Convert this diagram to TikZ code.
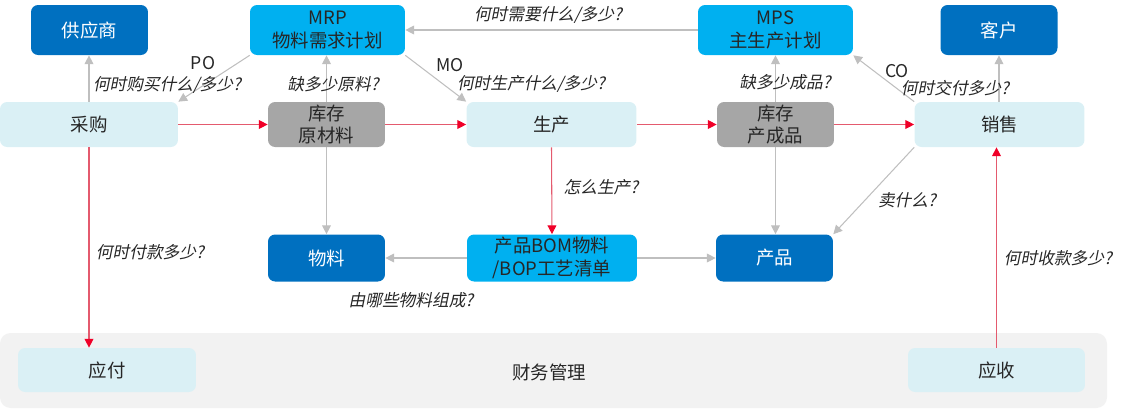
\documentclass[tikz,border=0pt]{standalone}
\usepackage{fontspec}
\usepackage{tikz}
\usetikzlibrary{arrows.meta, positioning}
\newfontfamily\cjk{Noto Sans CJK SC}
\newfontfamily\cjkit[FakeSlant=0.2]{Noto Sans CJK SC}
\definecolor{mydeep}{RGB}{0,112,192}
\definecolor{mysky}{RGB}{0,176,240}
\definecolor{mypale}{RGB}{218,240,245}
\definecolor{mystock}{RGB}{166,166,166}
\definecolor{myband}{RGB}{242,242,242}
\definecolor{mygrey}{RGB}{191,191,191}
\definecolor{myred}{RGB}{228,90,110}
\definecolor{mytip}{RGB}{240,0,40}
\definecolor{mytext}{RGB}{38,38,38}
\tikzset{
  box/.style={rectangle, rounded corners=4pt, inner sep=0pt, align=center,
    font=\cjk\fontsize{10.5}{13}\selectfont, text=mytext},
  deepbox/.style={box, fill=mydeep, text=white, minimum width=2.34cm, minimum height=1cm},
  skybox/.style={box, fill=mysky, minimum width=3.1cm, minimum height=1cm},
  palebox/.style={box, fill=mypale, minimum width=3.4cm, minimum height=0.9cm},
  stockbox/.style={box, fill=mystock, minimum width=2.34cm, minimum height=0.9cm},
  ask/.style={font=\cjkit\fontsize{9.5}{11}\selectfont, text=mytext, inner sep=1pt},
  tag/.style={font=\cjk\fontsize{10}{12}\selectfont, text=mytext, inner sep=1pt},
  greyarrow/.style={-{Triangle[length=5pt,width=5pt]}, color=mygrey, line width=0.6pt},
  redarrow/.style={-{Triangle[length=5pt,width=5pt,color=mytip]}, color=myred, line width=0.6pt}
}

\begin{document}
\begin{tikzpicture}[x=0.02cm, y=-0.02cm]
  \useasboundingbox (0,0) rectangle (1126,410);

  % finance band
  \fill[myband, rounded corners=6pt] (0,333) rectangle (1107,408);
  \node[tag, font=\cjk\fontsize{10.5}{13}\selectfont] (finance) at (549,372) {财务管理};

  % top row
  \node[deepbox] (supplier) at (89.5,30) {供应商};
  \node[skybox] (mrp) at (327.5,30) {MRP\\物料需求计划};
  \node[skybox] (mps) at (775.5,30) {MPS\\主生产计划};
  \node[deepbox] (customer) at (999,30) {客户};

  % middle row
  \node[palebox, minimum width=3.56cm] (caigou) at (89,124.5) {采购};
  \node[stockbox] (rawstock) at (326.5,124.5) {库存\\原材料};
  \node[palebox] (shengchan) at (551.5,124.5) {生产};
  \node[stockbox] (goodstock) at (775.5,124.5) {库存\\产成品};
  \node[palebox] (xiaoshou) at (999.5,124.5) {销售};

  % lower row
  \node[deepbox, minimum height=0.94cm] (wuliao) at (326.5,258) {物料};
  \node[skybox, minimum width=3.4cm, minimum height=0.94cm] (bom) at (552,258) {产品BOM物料\\/BOP工艺清单};
  \node[deepbox, minimum height=0.94cm] (chanpin) at (774.5,258) {产品};

  % finance boxes
  \node[palebox, minimum width=3.56cm, minimum height=0.88cm] (yingfu) at (107,370) {应付};
  \node[palebox, minimum width=3.54cm, minimum height=0.88cm] (yingshou) at (996.5,370) {应收};

  % grey flows
  \draw[greyarrow] (caigou.north) -- (caigou.north |- supplier.south);
  \draw[greyarrow] (mrp.south west) -- (caigou.north east);
  \draw[greyarrow] (rawstock.north) -- (rawstock.north |- mrp.south);
  \draw[greyarrow] (mrp.south east) -- (shengchan.north west);
  \draw[greyarrow] (mps.west) -- (mrp.east);
  \draw[greyarrow] (goodstock.north) -- (goodstock.north |- mps.south);
  \draw[greyarrow] (xiaoshou.north west) -- (mps.south east);
  \draw[greyarrow] (customer.south |- xiaoshou.north) -- (customer.south);
  \draw[greyarrow] (rawstock.south) -- (rawstock.south |- wuliao.north);
  \draw[greyarrow] (bom.west) -- (wuliao.east);
  \draw[greyarrow] (bom.east) -- (chanpin.west);
  \draw[greyarrow] (goodstock.south) -- (goodstock.south |- chanpin.north);
  \draw[greyarrow] (xiaoshou.south west) -- (chanpin.north east);

  % red flows
  \draw[redarrow] (caigou.east) -- (rawstock.west);
  \draw[redarrow] (rawstock.east) -- (shengchan.west);
  \draw[redarrow] (shengchan.east) -- (goodstock.west);
  \draw[redarrow] (goodstock.east) -- (xiaoshou.west);
  \draw[redarrow] (shengchan.south) -- (bom.north);
  \draw[redarrow] (caigou.south) -- (caigou.south |- yingfu.north);
  \draw[redarrow] (yingshou.north) -- (yingshou.north |- xiaoshou.south);

  % questions
  \node[tag] (po) at (203,63) {PO};
  \node[ask] (askbuy) at (167,85) {何时购买什么/多少?};
  \node[ask] (askraw) at (333,84) {缺多少原料?};
  \node[tag] (mo) at (450,65) {MO};
  \node[ask] (askmake) at (531,84) {何时生产什么/多少?};
  \node[ask] (askneed) at (548,15) {何时需要什么/多少?};
  \node[ask] (askgoods) at (785,82) {缺多少成品?};
  \node[tag] (co) at (897,71) {CO};
  \node[ask] (askdeliver) at (955,88) {何时交付多少?};
  \node[ask] (askhow) at (601,187) {怎么生产?};
  \node[ask] (asksell) at (907,200) {卖什么?};
  \node[ask] (askpay) at (150,252) {何时付款多少?};
  \node[ask] (askmat) at (411,300) {由哪些物料组成?};
  \node[ask] (askcash) at (1058,258) {何时收款多少?};
\end{tikzpicture}
\end{document}
